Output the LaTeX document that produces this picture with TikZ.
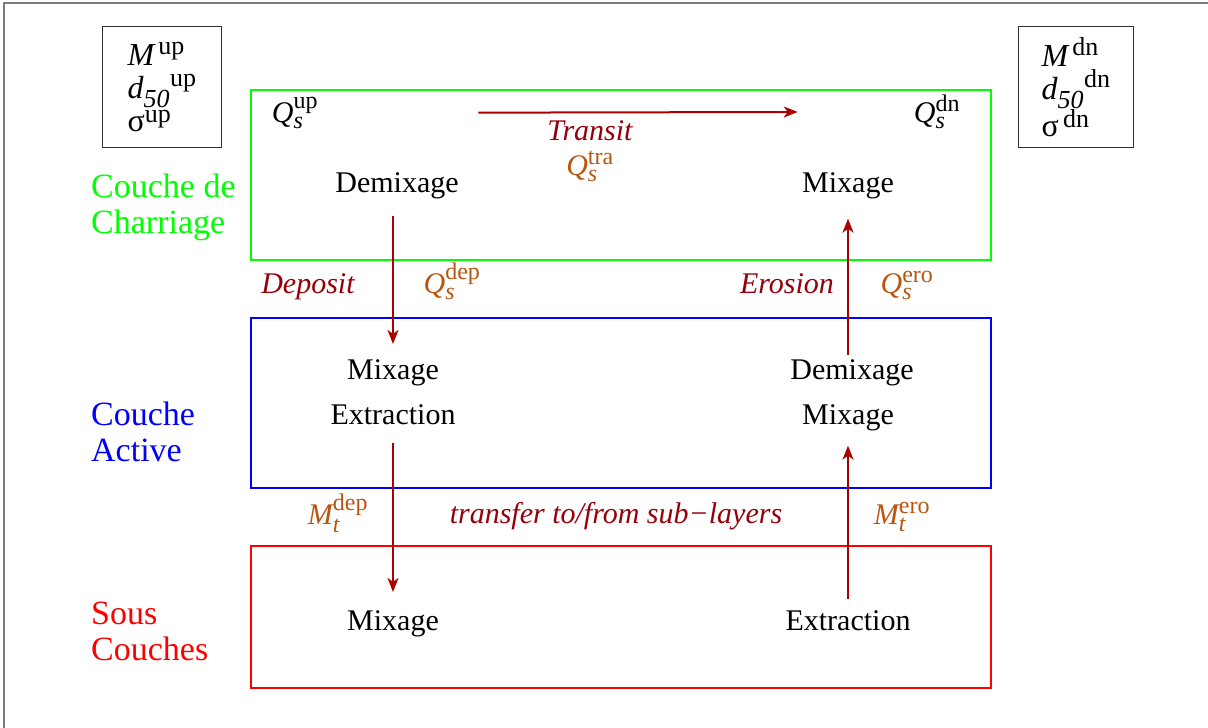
\documentclass[tikz,border=0pt]{standalone}
\usepackage{amsmath}
\usepackage{fontspec}
\setmainfont{Liberation Serif}
\usepackage{tikz}
\usetikzlibrary{positioning,arrows.meta}

\definecolor{flowred}{RGB}{170,0,0}
\definecolor{lblred}{RGB}{150,0,10}
\definecolor{qbrown}{RGB}{185,85,15}
\definecolor{framegray}{RGB}{125,125,125}

\DeclareMathSizes{30}{30}{24}{20}
\DeclareMathSizes{32}{32}{26}{20}

\newcommand{\Qs}[1]{$\textit{Q}_{\textit{s}}^{\textrm{#1}}$}
\newcommand{\Mt}[1]{$\textit{M}_{\textit{t}}^{\textrm{#1}}$}

\begin{document}
\begin{tikzpicture}[x=1pt, y=-1pt,
		txt/.style={font=\fontsize{30}{34}\selectfont, inner sep=0pt, anchor=base},
		lbl/.style={txt, text=lblred, font=\fontsize{30}{34}\selectfont\itshape},
		qty/.style={txt, text=qbrown},
		layername/.style={font=\fontsize{34}{36}\selectfont, align=left, anchor=north west, inner sep=0pt},
		layerbox/.style={draw, line width=2pt, minimum width=740pt, anchor=north west, inner sep=0pt},
		refbox/.style={draw=black!80, line width=1.2pt, minimum height=121pt, align=left, font=\fontsize{32}{33}\selectfont, anchor=north west},
		flowarrow/.style={-{Stealth[length=14pt, width=11pt, inset=4pt]}, draw=flowred, line width=2pt}]
		\useasboundingbox (0,0) rectangle (1208,728);
		\draw[framegray, line width=2pt] (4,728) -- (4,3) -- (1208,3);

		% upstream / downstream
		\node[refbox, minimum width=119pt] (upst) at (102,26) {$\textit{M}^{\,\textrm{up}}$\\ ${\textit{d}_{\textit{50}}}^{\textrm{up}}$\\ $\textrm{σ}^{\textrm{up}}$};
		\node[refbox, minimum width=115pt] (dnst) at (1018,26) {$\textit{M}^{\,\textrm{dn}}$\\ ${\textit{d}_{\textit{50}}}^{\textrm{dn}}$\\ $\textrm{σ}^{\,\textrm{dn}}$};

		% layers
		\node[layerbox, draw=green, minimum height=170pt] (charriage) at (250,89) {};
		\node[layerbox, draw=blue, minimum height=170pt] (active) at (250,317) {};
		\node[layerbox, draw=red, minimum height=142pt] (sous) at (250,545) {};
		\node[layername, text=green] (lcharriage) at (91,174) {Couche de\\Charriage};
		\node[layername, text=blue] (lactive) at (91,402) {Couche\\Active};
		\node[layername, text=red] (lsous) at (91,602) {Sous\\Couches};

		% processes
		\node[txt] (demixC) at (397,192) {Demixage};
		\node[txt] (mixC) at (848,192) {Mixage};
		\node[txt] (mixA) at (393,379) {Mixage};
		\node[txt] (extrA) at (393,424) {Extraction};
		\node[txt] (demixA) at (852,379) {Demixage};
		\node[txt] (mixA2) at (848,424) {Mixage};
		\node[txt] (mixS) at (393,630) {Mixage};
		\node[txt] (extrS) at (848,630) {Extraction};

		% fluxes
		\node[txt] (qup) at (295,122) {\Qs{up}};
		\node[txt] (qdn) at (937,122) {\Qs{dn}};
		\node[lbl] (transit) at (590,140) {Transit};
		\node[qty] (qtra) at (590,175) {\Qs{tra}};
		\node[lbl] (deposit) at (308,293) {Deposit};
		\node[qty] (qdep) at (452,293) {\Qs{dep}};
		\node[lbl] (erosion) at (787,293) {Erosion};
		\node[qty] (qero) at (907,293) {\Qs{ero}};
		\node[qty] (mdep) at (338,524) {\Mt{dep}};
		\node[lbl] (transfer) at (616,523) {transfer to/from sub−layers};
		\node[qty] (mero) at (902,524) {\Mt{ero}};

		\draw[flowarrow, shorten <=160pt, shorten >=116pt] (qup.east) -- (qdn.west);
		\draw[flowarrow, shorten <=17pt, shorten >=15pt] (mixA.north |- demixC.south) -- (mixA.north);
		\draw[flowarrow, shorten <=4pt, shorten >=20pt] (mixC.south |- demixA.north) -- (mixC.south);
		\draw[flowarrow, shorten <=19pt, shorten >=18pt] (extrA.south) -- (extrA.south |- mixS.north);
		\draw[flowarrow, shorten <=11pt, shorten >=15pt] (extrS.north) -- (extrS.north |- mixA2.south);
	\end{tikzpicture}
\end{document}
